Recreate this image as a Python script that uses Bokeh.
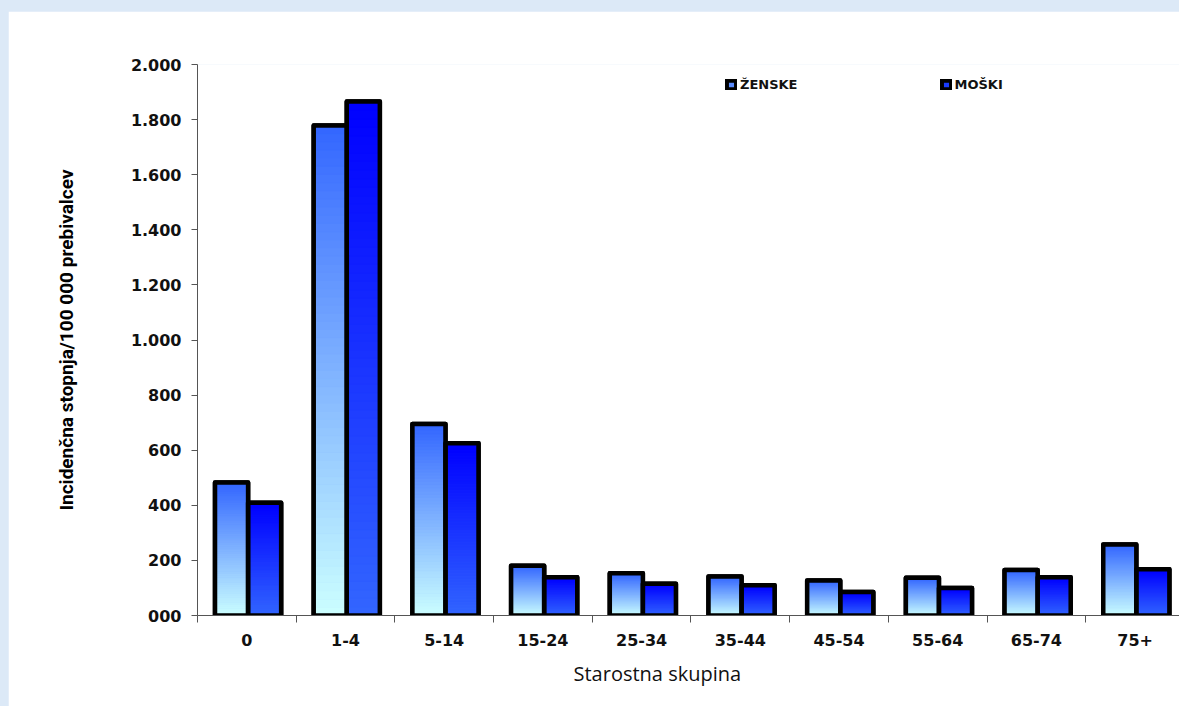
import numpy as np
from bokeh.plotting import figure
from bokeh.models import FixedTicker, Range1d, Legend, LegendItem, Title
from bokeh.embed import file_html
from bokeh.resources import INLINE

# ---- data ----
categories = ["0", "1-4", "5-14", "15-24", "25-34", "35-44", "45-54", "55-64", "65-74", "75+"]
zenske = [483, 1779, 695, 181, 153, 142, 127, 137, 165, 258]
moski = [409, 1866, 625, 139, 115, 110, 85, 100, 139, 168]
series_names = ["ŽENSKE", "MOŠKI"]
y_ticks = [0, 200, 400, 600, 800, 1000, 1200, 1400, 1600, 1800, 2000]
y_tick_labels = ["000", "200", "400", "600", "800", "1.000", "1.200", "1.400", "1.600", "1.800", "2.000"]
x_title = "Starostna skupina"
y_title = "Incidenčna stopnja/100 000 prebivalcev"

# ---- style ----
F_BOTTOM, F_TOP = "#ccffff", "#3366ff"
M_BOTTOM, M_TOP = "#3366ff", "#0000ff"
BAR_W = 0.335
F_OFF, M_OFF = -0.155, 0.18
N_BANDS = 60


def _rgb(h):
    h = h.lstrip("#")
    return np.array([int(h[i:i + 2], 16) for i in (0, 2, 4)], dtype=float)


def _hex(c):
    return "#%02x%02x%02x" % tuple(int(round(v)) for v in c)


def gradient_bands(values, offset, c_bottom, c_top, n=N_BANDS):
    cb, ct = _rgb(c_bottom), _rgb(c_top)
    xs, bots, tops, cols = [], [], [], []
    for i, v in enumerate(values):
        for k in range(n):
            xs.append(i + offset)
            bots.append(v * k / n)
            tops.append(v * (k + 1) / n)
            t = (k + 0.5) / n
            cols.append(_hex(cb + (ct - cb) * t))
    return dict(x=xs, bottom=bots, top=tops, color=cols)


p = figure(width=1171, height=695,
           x_range=Range1d(-0.5, 9.45), y_range=Range1d(0, 2000),
           output_backend="svg", toolbar_location=None,
           min_border_left=189, min_border_right=0,
           min_border_top=53, min_border_bottom=91)
p.margin = (11, 0, 0, 8)
p.background_fill_color = "white"
p.border_fill_color = "white"
p.outline_line_color = None
p.xgrid.visible = False
p.ygrid.visible = False

xf = [i + F_OFF for i in range(len(categories))]
xm = [i + M_OFF for i in range(len(categories))]

# base bars (used for legend)
r_f = p.vbar(x=xf, top=zenske, bottom=0, width=BAR_W, fill_color="#5b8cff",
             line_color="black", line_width=4.5, line_join="round")
r_m = p.vbar(x=xm, top=moski, bottom=0, width=BAR_W, fill_color="#1a3cff",
             line_color="black", line_width=4.5, line_join="round")

# gradient fills
for vals, off, cb, ct in [(zenske, F_OFF, F_BOTTOM, F_TOP), (moski, M_OFF, M_BOTTOM, M_TOP)]:
    d = gradient_bands(vals, off, cb, ct)
    p.vbar(x=d["x"], bottom=d["bottom"], top=d["top"], width=BAR_W,
           fill_color=d["color"], line_color=d["color"], line_width=1)

# outlines on top
p.vbar(x=xf, top=zenske, bottom=0, width=BAR_W, fill_color=None,
       line_color="black", line_width=4.5, line_join="round")
p.vbar(x=xm, top=moski, bottom=0, width=BAR_W, fill_color=None,
       line_color="black", line_width=4.5, line_join="round")

# x axis
xa = p.xaxis[0]
xa.ticker = FixedTicker(ticks=list(range(len(categories))),
                        minor_ticks=[i - 0.5 for i in range(len(categories) + 1)])
xa.major_label_overrides = {i: c for i, c in enumerate(categories)}
xa.major_tick_in = 0
xa.major_tick_out = 0
xa.minor_tick_in = 0
xa.minor_tick_out = 7
xa.minor_tick_line_color = "#555555"
xa.axis_line_color = "#555555"
xa.major_label_standoff = 11
xa.major_label_text_font = "DejaVu Sans"
xa.major_label_text_font_style = "bold"
xa.major_label_text_font_size = "16px"
xa.major_label_text_color = "#111111"

# x axis title (offset to the left, as in the original)
p.add_layout(Title(text=x_title, align="left", offset=376, standoff=18,
                   text_font="Open Sans", text_font_style="normal",
                   text_font_size="20px", text_color="#111111"), "below")

# y axis
ya = p.yaxis[0]
ya.ticker = FixedTicker(ticks=y_ticks)
ya.major_label_overrides = {t: l for t, l in zip(y_ticks, y_tick_labels)}
ya.major_tick_in = 0
ya.major_tick_out = 6
ya.minor_tick_line_color = None
ya.axis_line_color = "#555555"
ya.major_tick_line_color = "#555555"
ya.major_label_standoff = 10
ya.major_label_text_font = "DejaVu Sans"
ya.major_label_text_font_style = "bold"
ya.major_label_text_font_size = "16px"
ya.major_label_text_color = "#111111"
ya.axis_label = y_title
ya.axis_label_text_font = "Roboto"
ya.axis_label_text_font_style = "bold"
ya.axis_label_text_font_size = "19px"
ya.axis_label_text_color = "black"
ya.axis_label_standoff = 50

legend = Legend(items=[LegendItem(label=series_names[0], renderers=[r_f]),
                       LegendItem(label=series_names[1], renderers=[r_m])],
                orientation="horizontal", location=(528, 523),
                spacing=142, glyph_width=12, glyph_height=11, label_standoff=3,
                padding=0, margin=0, border_line_color=None, background_fill_alpha=0,
                label_text_font="DejaVu Sans", label_text_font_style="bold",
                label_text_font_size="13px", label_height=11, label_text_color="#111111")
p.add_layout(legend)

html = file_html(p, INLINE)
html = html.replace("</head>", "<style>html, body { background: #dce9f7 !important; }</style></head>", 1)
open("out.html", "w").write(html)
